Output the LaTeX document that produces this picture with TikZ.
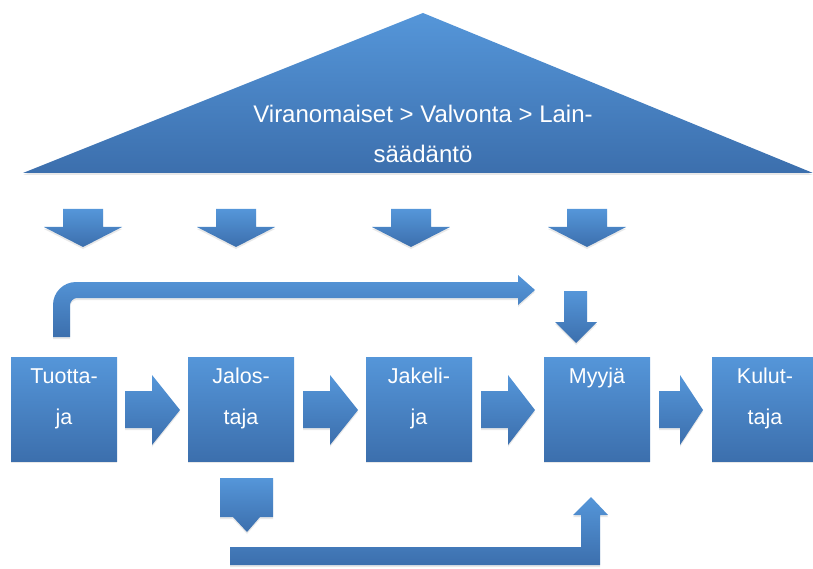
\documentclass[tikz,border=0pt]{standalone}
\usepackage{fontspec}
\setmainfont{Liberation Sans}
\usetikzlibrary{shadows}
\definecolor{btop}{HTML}{5596D9}
\definecolor{bbot}{HTML}{3C6FAD}
\tikzset{
  blue fill/.style={top color=btop, bottom color=bbot, draw=none,
    drop shadow={opacity=0.18, shadow xshift=0pt, shadow yshift=-2pt}},
  box/.style={blue fill, rectangle, minimum width=106pt, minimum height=104pt, inner sep=0pt},
  lbl/.style={text=white, font=\fontsize{21.5}{24}\selectfont, anchor=base, inner sep=0pt},
  toplbl/.style={text=white, font=\fontsize{24}{27}\selectfont, anchor=base, inner sep=0pt},
}
\newcommand{\rarr}[3]{% x-start, head-start, tip
  \path[blue fill] (#1,391) -- (#2,391) -- (#2,375) -- (#3,410) -- (#2,445) -- (#2,428) -- (#1,428) -- cycle;}
\newcommand{\darr}[1]{% center x of small top arrows
  \path[blue fill] ({#1-20},209) -- ({#1+20},209) -- ({#1+20},227) -- ({#1+39},227) -- (#1,247) -- ({#1-39},227) -- ({#1-20},227) -- cycle;}
\begin{document}
\begin{tikzpicture}[x=1pt,y=-1pt]
\useasboundingbox (0,0) rectangle (813,569);
% top triangle
\path[blue fill] (23,173) -- (423,13) -- (813,173) -- cycle;
\node[toplbl] (law1) at (423,123) {Viranomaiset > Valvonta > Lain-};
\node[toplbl] (law2) at (423,163) {säädäntö};
% small down arrows
\darr{83}
\darr{236}
\darr{411}
\darr{587}
% boxes
\node[box] (tuo) at (64,409) {};
\node[box] (jal) at (241,409) {};
\node[box] (jak) at (419,409) {};
\node[box] (myy) at (597,409) {};
\node[box] (kul) at (765,409) {};
\foreach \n/\a/\b in {tuo/Tuotta-/ja, jal/Jalos-/taja, jak/Jakeli-/ja, kul/Kulut-/taja}{
  \node[lbl] (\n1) at ([yshift=-27pt]\n.north) {\a};
  \node[lbl] (\n2) at ([yshift=-68pt]\n.north) {\b};
}
\node[lbl] (myy1) at ([yshift=-27pt]myy.north) {Myyjä};
% right arrows between boxes
\rarr{125}{152}{180}
\rarr{303}{330}{358}
\rarr{481}{508}{535}
\rarr{659}{680}{703}
% top bent arrow from Tuottaja
\path[blue fill] (53,337) -- (53,305) .. controls (53,292.3) and (63.3,282) .. (76,282)
  -- (518,282) -- (518,275) -- (535,290) -- (518,305) -- (518,298)
  -- (77,298) .. controls (73.1,298) and (70,301.9) .. (70,305) -- (70,337) -- cycle;
% down arrow into Myyja
\path[blue fill] (564,291) -- (587,291) -- (587,322) -- (597,322) -- (576,343) -- (555,322) -- (564,322) -- cycle;
% down arrow under Jalostaja
\path[blue fill] (220,478) -- (273,478) -- (273,517) -- (260,517) -- (247,532) -- (233,517) -- (220,517) -- cycle;
% bottom bent arrow up to Myyja
\path[blue fill] (230,547) -- (581,547) -- (581,515) -- (573,515) -- (591,497) -- (608,515) -- (600,515) -- (600,565) -- (230,565) -- cycle;
\end{tikzpicture}
\end{document}
